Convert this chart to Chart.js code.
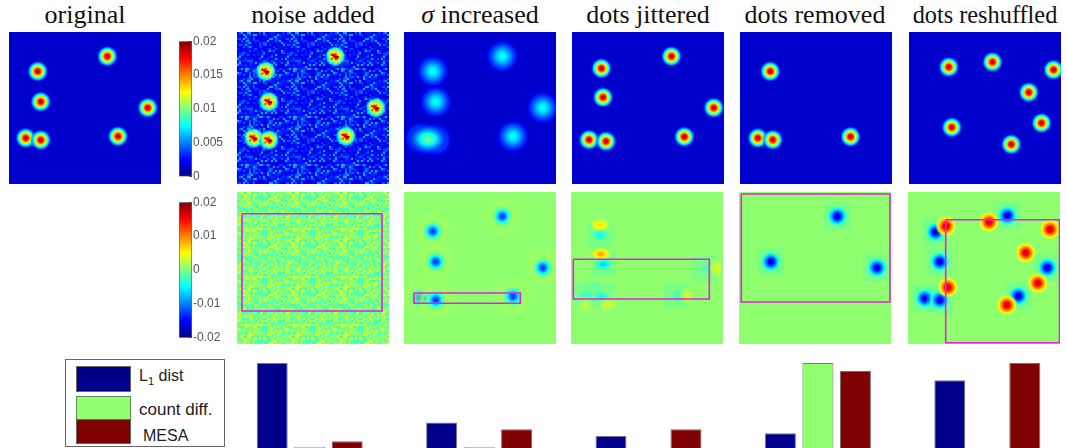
<!DOCTYPE html>
<html>
<head>
<meta charset="utf-8">
<title>MESA comparison</title>
<script src="https://cdn.jsdelivr.net/npm/chart.js@4"></script>
<style>
  html, body { margin: 0; background: #fff; }
  body { position: relative; width: 1067px; height: 448px; overflow: hidden; }
  canvas { position: absolute; display: block; }
  .title { position: absolute; top: 0; width: 180px; text-align: center; white-space: nowrap;
           font: 26px/30px "Liberation Serif", serif; color: #111; }
  .panel { position: absolute; width: 152px; height: 152px; overflow: hidden; }
  .panel canvas { left: 0; top: 0; }
  .noisy canvas { filter: blur(0.6px); }
  #legend { position: absolute; left: 65px; top: 359px; width: 160px; height: 88px;
            border: 1px solid #666; box-sizing: border-box;
            font-family: "Liberation Sans", Arial, sans-serif; color: #222; }
  #legend i { position: absolute; left: 10px; width: 55px; box-sizing: border-box; border: 1px solid #666; }
  #legend span { position: absolute; white-space: nowrap; font-size: 16px; line-height: 18px; }
  #legend sub { font-size: 11px; line-height: 0; }
</style>
</head>
<body>
<script>
// Panel titles, bar groups and series
const titles = ["original", "noise added", "<i>&sigma;</i> increased", "dots jittered", "dots removed", "dots reshuffled"];
const groups = ["noise added", "sigma increased", "dots jittered", "dots removed", "dots reshuffled"];
const l1Dist = [1.0, 0.30, 0.14, 0.173, 0.796];
const countDiff = [0.012, 0.012, 0, 1.0, 0];
const mesa = [0.08, 0.22, 0.22, 0.906, 1.0];

const ticksDensity = [0, 0.005, 0.01, 0.015, 0.02];
const ticksDiff = [-0.02, -0.01, 0, 0.01, 0.02];

// Dot centres, in panel units (0..152, y down)
const dotsOriginal = [[98.3,24.3],[28.7,39.3],[31.7,69.7],[138.7,75.7],[16.7,106],[31.7,108],[109,104.3]];
const dotsJittered = [[99.4,24.3],[29.4,36.3],[31,65.3],[141.7,75.7],[17,107.7],[34,109.3],[112.3,104.7]];
const dotsRemoved = [[30.2,39.3],[17.8,106],[32.7,107.7],[110.5,104.7]];
const dotsShuffled = [[39.8,35],[83.4,30],[144.5,37.7],[119.7,60.3],[42.8,95.3],[132.5,91],[102.2,112.3]];
const sigmaMerged = [[24,107]];

// Difference panels
const sigmaDiffDots = [[98.3,24.3],[28.7,39.3],[31.7,69.7],[138.7,75.7],[16.7,106],[31.7,108],[109,104.3]];
const removedDiffDots = [[98.3,24.3],[31.7,69.7],[138,75.7]];
const shuffledDiffBlue = [[99.3,23.7],[27.7,40],[31.7,69.7],[139.3,75.7],[110.3,104],[17,106.3],[31.7,108]];
const shuffledDiffRed = [[38,34],[81,30],[142,37.3],[117.7,60.7],[40,95.3],[129.7,91],[98.7,113]];
// x, y, signed height, h = flat lobe / v = tall lobe
const jitteredDiffLobes = [
  [29,32.7,0.15,"h"],[29,43,-0.14,"h"],[29.7,62,0.21,"h"],[32.3,72.3,-0.19,"h"],
  [134,76.3,-0.07,"v"],[144.7,76.3,0.12,"v"],[15.7,102.3,-0.09,"h"],[29.7,104,-0.13,"h"],
  [16.3,112.3,0.1,"h"],[36,112.3,0.13,"h"],[105.7,103.7,-0.08,"v"],[115.7,103.7,0.11,"v"]
];

// Magenta boxes: x0, y0, x1, y1
const boxNoise = [5, 21.7, 145, 119];
const boxSigma = [10, 101, 116.3, 111.3];
const boxJitter = [2.3, 67.3, 138.3, 107];
const boxRemoved = [2.3, 2, 151, 110];
const boxShuffled = [37.7, 27.7, 151.5, 150.7];

// Hand typed speckle tile for the two noise panels. Texture only, not read cell by cell.
const noiseTile = [
  "371402958136047291583620",
  "825163074921538460712949",
  "140796352807216935048371",
  "693258410674920183765204",
  "205847196352081746293517",
  "768130925419673502184096",
  "314692708253149867025381",
  "957041386720594318672450",
  "082563719148306275941763",
  "436917250684721093586012",
  "571208493306158642730895",
  "209784615973240518367124",
  "648350172865093741206589",
  "103926847512687930451276",
  "795461038249315602879341",
  "362708951670428153946027",
  "814093562738106497253680",
  "527649180395762814036195",
  "930182746051893267415708",
  "486375209617024958361242",
  "051867493228570136984617",
  "673240581964317802549036",
  "298516037480926375106874",
  "741039862156483029675318"
];
const noiseLevelsTop = [0.085, 0.1, 0.11, 0.12, 0.13, 0.14, 0.16, 0.18, 0.22, 0.3];
const noiseLevelsDiff = [0.43, 0.45, 0.465, 0.48, 0.49, 0.5, 0.51, 0.53, 0.56, 0.6];

const BG_TOP = 0.075, BG_DIFF = 0.515;
const BOX_COLOR = "#e81fe0";

const clamp = (v) => Math.max(0, Math.min(1, v));
function jet(v) {
  return [clamp(1.5 - Math.abs(4 * v - 3)), clamp(1.5 - Math.abs(4 * v - 2)), clamp(1.5 - Math.abs(4 * v - 1))]
    .map(c => Math.round(c * 255));
}
const jetCss = (v) => `rgb(${jet(v).join(",")})`;
function tileAt(col, row) {
  const a = +noiseTile[row % 24][col % 24];
  const b = +noiseTile[(row * 5 + col) % 24][(col * 7 + row) % 24];
  return (a + 3 * b) % 10;
}

// Soft dot used as a point style; the chart's scales place it.
function sprite({ amp, sx, sy = sx, base, ringAmp = 0, ringS = 0, box = 0, tex = 0 }) {
  const half = Math.ceil(3.2 * Math.max(sx, sy, ringS, box / 3));
  const c = document.createElement("canvas");
  c.width = c.height = half * 2 + 1;
  const g = c.getContext("2d");
  const img = g.createImageData(c.width, c.height);
  for (let y = -half; y <= half; y++) {
    for (let x = -half; x <= half; x++) {
      const q = Math.exp(-(x * x) / (2 * sx * sx) - (y * y) / (2 * sy * sy));
      let d = amp * q;
      if (ringAmp) d += ringAmp * Math.exp(-(x * x + y * y) / (2 * ringS * ringS));
      // fade out early so neighbouring dots do not paint over each other
      let a = Math.abs(d) / (0.25 * Math.abs(amp));
      a = ringAmp ? Math.abs(d) / 0.02 : clamp((a - 0.4) / 0.6);
      let v = base + d;
      if (box && a < 0.3 && Math.abs(x) <= box && Math.abs(y) <= box) { v = base - 0.1; a = 0.22; }
      if (tex) v += q * (tileAt((x + half) >> 1, (y + half) >> 1) - 4.5) * tex;
      const rgb = jet(v);
      const i = ((y + half) * c.width + x + half) * 4;
      img.data[i] = rgb[0]; img.data[i + 1] = rgb[1]; img.data[i + 2] = rgb[2];
      img.data[i + 3] = Math.round(clamp(a) * 255);
    }
  }
  g.putImageData(img, 0, 0);
  return c;
}

const xy = (pairs) => pairs.map(p => ({ x: p[0], y: p[1] }));
const dotSet = (pairs, style) => ({ data: xy(pairs), pointStyle: style, pointRadius: 6, showLine: false, order: 2 });
const boxSet = (b) => ({
  data: xy([[b[0], b[1]], [b[2], b[1]], [b[2], b[3]], [b[0], b[3]], [b[0], b[1]]]),
  showLine: true, borderColor: BOX_COLOR, borderWidth: 1.6, pointRadius: 0, order: 0, tension: 0
});
function noiseSet(levels) {
  const cells = [], colors = [];
  for (let r = 0; r < 76; r++) {
    for (let q = 0; q < 76; q++) {
      cells.push({ x: q * 2 + 1, y: r * 2 + 1 });
      colors.push(jetCss(levels[tileAt(q, r)]));
    }
  }
  return { data: cells, pointStyle: "rect", pointRadius: 1.5, pointBackgroundColor: colors,
           pointBorderWidth: 0, showLine: false, order: 3 };
}

function addPanel(left, top, background, datasets, noisy) {
  const wrap = document.createElement("div");
  wrap.className = "panel" + (noisy ? " noisy" : "");
  wrap.style.cssText = `left:${left}px;top:${top}px;background:${background}`;
  const cv = document.createElement("canvas");
  cv.width = cv.height = 152;
  wrap.appendChild(cv);
  document.body.appendChild(wrap);
  new Chart(cv, {
    type: "scatter",
    data: { datasets },
    options: {
      responsive: false, animation: false, events: [],
      layout: { padding: 0, autoPadding: false },
      plugins: { legend: { display: false }, tooltip: { enabled: false } },
      scales: {
        x: { type: "linear", min: 0, max: 152, display: false },
        y: { type: "linear", min: 0, max: 152, reverse: true, display: false }
      }
    }
  });
}

function addColorbar(top, lo, hi, tickValues) {
  const cv = document.createElement("canvas");
  cv.width = 64; cv.height = 158;
  cv.style.cssText = `left:172px;top:${top - 8}px`;
  document.body.appendChild(cv);
  new Chart(cv, {
    type: "bar",
    data: {
      labels: ["scale"],
      datasets: [{
        data: [[lo, hi]],
        barPercentage: 1, categoryPercentage: 1,
        borderColor: "#666", borderWidth: 1, borderSkipped: false,
        backgroundColor: (ctx) => {
          const a = ctx.chart.chartArea;
          if (!a) return "#000";
          const g = ctx.chart.ctx.createLinearGradient(0, a.bottom, 0, a.top);
          for (let i = 0; i <= 16; i++) g.addColorStop(i / 16, jetCss(i / 16));
          return g;
        }
      }]
    },
    options: {
      responsive: false, animation: false, events: [],
      layout: { padding: { left: 7, top: 8, bottom: 9, right: 0 } },
      plugins: { legend: { display: false }, tooltip: { enabled: false } },
      scales: {
        x: { display: false },
        y: {
          position: "right", min: lo, max: hi,
          afterBuildTicks: (s) => { s.ticks = tickValues.map(value => ({ value })); },
          afterFit: (s) => { s.width = 44; },
          border: { display: false },
          grid: { drawOnChartArea: false, tickLength: -3, color: "#333" },
          ticks: {
            padding: 4, autoSkip: false, maxRotation: 0, color: "#555",
            font: { family: "Liberation Sans", size: 12 },
            callback: (v) => String(v)
          }
        }
      }
    }
  });
}

function addBars() {
  const cv = document.createElement("canvas");
  cv.width = 847; cv.height = 93;
  cv.style.cssText = "left:225px;top:355px";
  document.body.appendChild(cv);
  const common = { barPercentage: 0.827, categoryPercentage: 0.664, borderWidth: 1 };
  new Chart(cv, {
    type: "bar",
    data: {
      labels: groups,
      datasets: [
        { label: "L1 dist", data: l1Dist, backgroundColor: "#00008b", borderColor: "#77778f", ...common },
        { label: "count diff.", data: countDiff, backgroundColor: "#90ff70", borderColor: "#5c8f52", ...common },
        { label: "MESA", data: mesa, backgroundColor: "#7f0000", borderColor: "#7a6a6a", ...common }
      ]
    },
    options: {
      responsive: false, animation: false, events: [],
      layout: { padding: { top: 8, left: 0, right: 0, bottom: 0 } },
      plugins: { legend: { display: false }, tooltip: { enabled: false } },
      scales: { x: { display: false }, y: { display: false, min: 0, max: 1 } }
    }
  });
}

// Titles
const titleCentres = [85, 313, 480, 648, 815, 985];
titles.forEach((t, i) => {
  const d = document.createElement("div");
  d.className = "title";
  d.innerHTML = t;
  d.style.left = (titleCentres[i] - 90) + "px";
  if (i === 5) d.style.fontSize = "24.3px";
  document.body.appendChild(d);
});

// Top row
const TOP_BG = jetCss(BG_TOP), DIFF_BG = jetCss(BG_DIFF);
const dot = sprite({ amp: 0.88, sx: 5, base: BG_TOP });
const noisyDot = sprite({ amp: 0.74, sx: 5, base: 0.19, tex: 0.05 });
const wideDot = sprite({ amp: 0.31, sx: 8, base: BG_TOP });
const mergedDot = sprite({ amp: 0.4, sx: 10, sy: 7.5, base: BG_TOP });

addPanel(9, 32, TOP_BG, [dotSet(dotsOriginal, dot)]);
addPanel(237, 32, TOP_BG, [dotSet(dotsOriginal, noisyDot), noiseSet(noiseLevelsTop)], true);
addPanel(404, 32, TOP_BG, [dotSet(sigmaMerged, mergedDot), { ...dotSet(dotsOriginal, wideDot), order: 3 }]);
addPanel(571.5, 32, TOP_BG, [dotSet(dotsJittered, dot)]);
addPanel(739.5, 32, TOP_BG, [dotSet(dotsRemoved, dot)]);
addPanel(908.5, 32, TOP_BG, [dotSet(dotsShuffled, dot)]);

// Difference row
const sigmaDip = sprite({ amp: -0.42, sx: 4.6, base: BG_DIFF, ringAmp: 0.07, ringS: 9 });
const deepDip = sprite({ amp: -0.44, sx: 5, base: BG_DIFF, box: 13 });
const redBump = sprite({ amp: 0.42, sx: 5, base: BG_DIFF });
const lobeStyle = (l) => sprite(l[3] === "h"
  ? { amp: l[2], sx: 5, sy: 3, base: BG_DIFF, box: l[2] < 0 ? 12 : 0 }
  : { amp: l[2], sx: 3, sy: 5, base: BG_DIFF, box: l[2] < 0 ? 12 : 0 });

addPanel(237, 192, DIFF_BG, [boxSet(boxNoise), noiseSet(noiseLevelsDiff)], true);
addPanel(404, 192, DIFF_BG, [boxSet(boxSigma), dotSet(sigmaDiffDots, sigmaDip)]);
addPanel(571, 192, DIFF_BG, [boxSet(boxJitter),
  ...jitteredDiffLobes.map(l => dotSet([[l[0], l[1]]], lobeStyle(l)))]);
addPanel(739, 192, DIFF_BG, [boxSet(boxRemoved), dotSet(removedDiffDots, deepDip)]);
addPanel(908, 192, DIFF_BG, [boxSet(boxShuffled), dotSet(shuffledDiffRed, redBump),
  { ...dotSet(shuffledDiffBlue, deepDip), order: 3 }]);

addColorbar(38, 0, 0.02, ticksDensity);
addColorbar(199, -0.02, 0.02, ticksDiff);
addBars();

// Legend (DOM because of the subscript)
const legend = document.createElement("div");
legend.id = "legend";
legend.innerHTML = `
  <i style="top:6px;height:26px;background:#00008b"></i>
  <i style="top:36px;height:24px;background:#90ff70;border-color:#5c8f52"></i>
  <i style="top:59px;height:25px;background:#7f0000"></i>
  <span style="left:73px;top:7px">L<sub>1</sub> dist</span>
  <span style="left:73px;top:41px;font-size:17px">count diff.</span>
  <span style="left:77px;top:67px">MESA</span>`;
document.body.appendChild(legend);
</script>
</body>
</html>
